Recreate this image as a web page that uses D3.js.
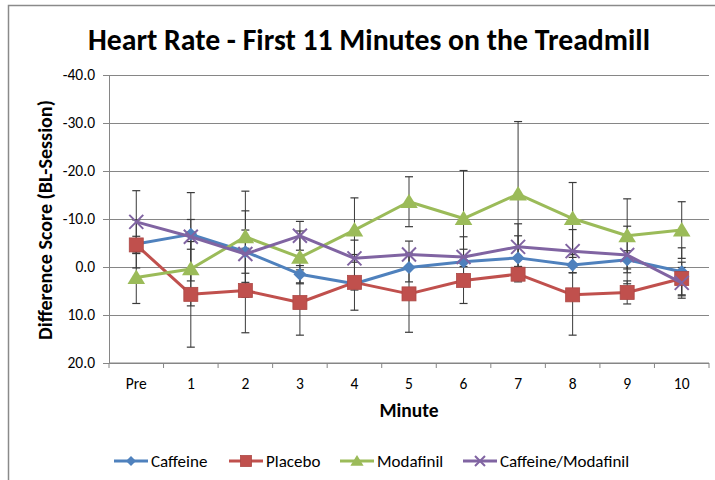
<!DOCTYPE html>
<html>
<head>
<meta charset="utf-8">
<script src="https://cdn.jsdelivr.net/npm/d3@7"></script>
<style>
  html, body { margin: 0; padding: 0; background: #fff; }
  svg { display: block; }
  text { font-family: Calibri, Carlito, "Liberation Sans", Arial, sans-serif; fill: #000; }
</style>
</head>
<body>
<svg id="chart" width="715" height="480"></svg>
<script>
// Heart rate difference scores (BL - Session) over the first minutes on the treadmill
const categories = ["Pre", "1", "2", "3", "4", "5", "6", "7", "8", "9", "10"];
const yTicks = [-40, -30, -20, -10, 0, 10, 20];

const caffeine     = [-4.8, -6.8, -3.2,  1.5,  3.5,   0.1,  -1.1,  -1.9,  -0.4, -1.5,  1.0];
const placebo      = [-4.6,  5.7,  4.9,  7.4,  3.2,   5.6,   2.8,   1.5,   5.8,  5.3,  2.4];
const modafinil    = [ 2.2,  0.4, -6.3, -2.0, -7.7, -13.6, -10.1, -15.2, -10.1, -6.5, -7.7];
const cafMod       = [-9.4, -6.3, -2.7, -6.5, -1.8,  -2.6,  -2.1,  -4.2,  -3.3, -2.5,  3.3];

// standard errors drawn as symmetric error bars
const caffeineErr  = [5.0, 3.1, 4.5, 1.8, 1.3, 3.0,  2.6,  4.6, 1.6, 1.9, 5.0];
const placeboErr   = [1.8, 11.0, 8.8, 6.8, 5.8, 8.0, 4.8,  1.6, 8.4, 2.4, 3.4];
const modafinilErr = [5.4, 7.7, 9.5, 5.5, 6.7, 5.2, 10.0, 15.1, 7.5, 7.7, 5.9];
const cafModErr    = [6.5, 9.2, 9.0, 3.0, 3.8, 2.8,  4.2,  4.8, 4.5, 6.0, 3.2];

const seriesNames  = ["Caffeine", "Placebo", "Modafinil", "Caffeine/Modafinil"];
const seriesColors = ["#4F81BD", "#C0504D", "#9BBB59", "#8064A2"];
const seriesShapes = ["diamond", "square", "triangle", "x"];

const series = seriesNames.map((name, i) => ({
  name,
  color: seriesColors[i],
  shape: seriesShapes[i],
  values: [caffeine, placebo, modafinil, cafMod][i],
  errors: [caffeineErr, placeboErr, modafinilErr, cafModErr][i]
}));

const svg = d3.select("#chart");
const plot = { left: 109, right: 709, top: 75, bottom: 363 };
const gridColor = "#868686";

// outer chart frame
svg.append("path")
  .attr("d", "M8.5,480 L8.5,5.5 L715,5.5")
  .attr("fill", "none").attr("stroke", "#8a8a8a").attr("stroke-width", 1.5);

const x = d3.scaleBand().domain(categories).range([plot.left, plot.right]).padding(0);
const y = d3.scaleLinear().domain([-40, 20]).range([plot.top, plot.bottom]);
const cx = c => x(c) + x.bandwidth() / 2;

// horizontal gridlines + y axis
const yAxis = d3.axisLeft(y).tickValues(yTicks).tickFormat(d => d.toFixed(1))
  .tickSize(6).tickPadding(8);
const gy = svg.append("g").attr("transform", `translate(${plot.left},0)`).call(yAxis);
gy.select(".domain").attr("stroke", gridColor);
gy.selectAll(".tick line").attr("stroke", gridColor);
gy.selectAll(".tick text").attr("font-size", 15.5).attr("font-family", null).attr("fill", "#000");
gy.selectAll(".tick").append("line")
  .attr("x1", 0).attr("x2", plot.right - plot.left)
  .attr("stroke", gridColor).attr("stroke-width", 1);

// x axis with tick marks between categories
const gx = svg.append("g").attr("transform", `translate(0,${plot.bottom})`);
gx.append("line").attr("x1", plot.left).attr("x2", plot.right)
  .attr("stroke", gridColor);
const boundaries = categories.map(c => x(c)).concat([plot.right]);
gx.selectAll("line.tk").data(boundaries).join("line").attr("class", "tk")
  .attr("x1", d => d).attr("x2", d => d).attr("y1", 0).attr("y2", 5)
  .attr("stroke", gridColor);
gx.selectAll("text").data(categories).join("text")
  .attr("x", d => cx(d)).attr("y", 21).attr("dy", "0.35em")
  .attr("text-anchor", "middle").attr("font-size", 15.5).text(d => d);

// titles
const title = svg.append("text").attr("x", 369).attr("y", 40).attr("dy", "0.35em")
  .attr("text-anchor", "middle").attr("font-weight", "bold").attr("font-size", 24)
  .text("Heart Rate - First 11 Minutes on the Treadmill");
const tw = title.node().getComputedTextLength();
title.attr("font-size", 24 * 562 / tw);

svg.append("text").attr("x", 409).attr("y", 410).attr("dy", "0.35em")
  .attr("text-anchor", "middle").attr("font-weight", "bold").attr("font-size", 19.5)
  .text("Minute");

const ytitle = svg.append("text").attr("transform", "translate(45,220) rotate(-90)").attr("dy", "0.35em")
  .attr("text-anchor", "middle").attr("font-weight", "bold").attr("font-size", 19.5)
  .text("Difference Score (BL-Session)");
const yw = ytitle.node().getComputedTextLength();
ytitle.attr("font-size", 19.5 * 240 / yw);

// marker shapes
function marker(g, shape, color, s) {
  if (shape === "diamond") {
    g.append("path").attr("d", `M0,${-s}L${s},0L0,${s}L${-s},0Z`).attr("fill", color);
  } else if (shape === "square") {
    g.append("rect").attr("x", -s).attr("y", -s).attr("width", 2 * s).attr("height", 2 * s)
      .attr("fill", color).attr("stroke", d3.color(color).darker(0.3)).attr("stroke-width", 0.8);
  } else if (shape === "triangle") {
    g.append("path").attr("d", `M0,${-s}L${s * 1.1},${s * 0.8}L${-s * 1.1},${s * 0.8}Z`).attr("fill", color);
  } else {
    g.append("path").attr("d", `M${-s},${-s}L${s},${s}M${-s},${s}L${s},${-s}`)
      .attr("stroke", color).attr("stroke-width", 2).attr("fill", "none");
  }
}
const markerSize = { diamond: 6.5, square: 7, triangle: 8, x: 7 };

// error bars
const eg = svg.append("g");
series.forEach(s => {
  categories.forEach((c, i) => {
    const v = s.values[i], e = s.errors[i];
    const px = cx(c);
    eg.append("line").attr("x1", px).attr("x2", px)
      .attr("y1", y(v - e)).attr("y2", y(v + e))
      .attr("stroke", "#3a3a3a").attr("stroke-width", 1);
    [v - e, v + e].forEach(t => {
      eg.append("line").attr("x1", px - 4).attr("x2", px + 4)
        .attr("y1", y(t)).attr("y2", y(t))
        .attr("stroke", "#3a3a3a").attr("stroke-width", 1.2);
    });
  });
});

// lines and markers
const line = d3.line().x((d, i) => cx(categories[i])).y(d => y(d));
series.forEach(s => {
  const g = svg.append("g");
  g.append("path").datum(s.values).attr("d", line)
    .attr("fill", "none").attr("stroke", s.color).attr("stroke-width", 3)
    .attr("stroke-linejoin", "round");
  s.values.forEach((v, i) => {
    const m = g.append("g").attr("transform", `translate(${cx(categories[i])},${y(v)})`);
    marker(m, s.shape, s.color, markerSize[s.shape]);
  });
});

// legend
const legendX = [114, 229, 340, 463];
const legY = 461;
series.forEach((s, i) => {
  const g = svg.append("g").attr("transform", `translate(${legendX[i]},${legY})`);
  g.append("line").attr("x1", 0).attr("x2", 34).attr("stroke", s.color).attr("stroke-width", 3);
  const m = g.append("g").attr("transform", "translate(17,0)");
  marker(m, s.shape, s.color, { diamond: 5, square: 5.5, triangle: 6, x: 5 }[s.shape]);
  g.append("text").attr("x", 37).attr("dy", "0.35em").attr("font-size", 17).text(s.name);
});
</script>
</body>
</html>
